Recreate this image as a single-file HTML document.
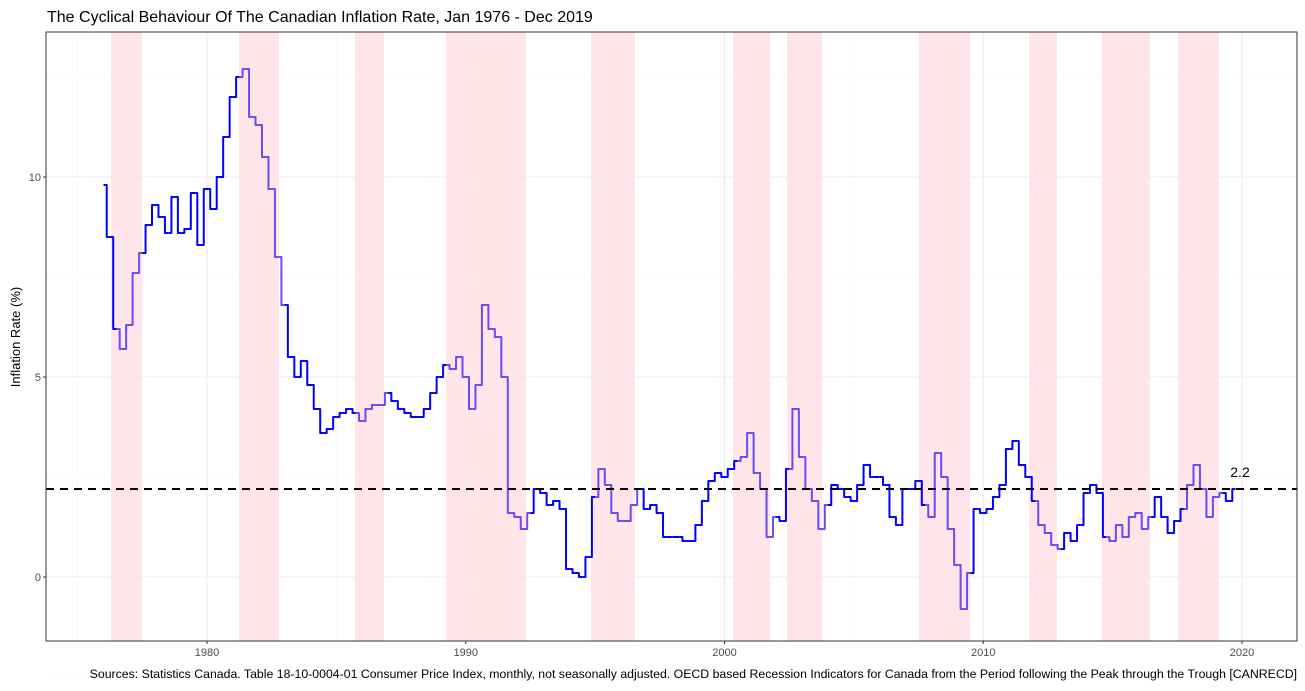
<!DOCTYPE html>
<html><head><meta charset="utf-8"><style>
body{margin:0;background:#fff;font-family:"Liberation Sans",sans-serif}
</style></head><body>
<svg width="1305" height="686" xmlns="http://www.w3.org/2000/svg">
<text x="47" y="22" font-size="16" fill="#000">The Cyclical Behaviour Of The Canadian Inflation Rate, Jan 1976 - Dec 2019</text>
<g id="bands"></g><g id="grid"></g><g id="series"></g><g id="axes"></g>
<rect x="46" y="32" width="1251" height="609" fill="none" stroke="#333" stroke-width="1"/>
<text transform="translate(20,337) rotate(-90)" text-anchor="middle" font-size="13" fill="#000">Inflation Rate (%)</text>
<text x="1297" y="678" text-anchor="end" font-size="12.3" fill="#000">Sources: Statistics Canada. Table 18-10-0004-01 Consumer Price Index, monthly, not seasonally adjusted. OECD based Recession Indicators for Canada from the Period following the Peak through the Trough [CANRECD]</text>
</svg>
<script>
const recStart=[1976.29,1981.24,1985.72,1989.24,1994.84,2000.33,2002.42,2007.52,2011.77,2014.59,2017.53];
const recEnd=[1977.49,1982.78,1986.84,1992.33,1996.54,2001.76,2003.77,2009.49,2012.85,2016.44,2019.11];
const startYear=1976, stepYears=0.25;
const inflation=[9.8,8.5,6.2,5.7,6.3,7.6,8.1,8.8,9.3,9.0,8.6,9.5,8.6,8.7,9.6,8.3,9.7,9.2,10.0,11.0,12.0,12.5,12.7,11.5,11.3,10.5,9.7,8.0,6.8,5.5,5.0,5.4,4.8,4.2,3.6,3.7,4.0,4.1,4.2,4.1,3.9,4.2,4.3,4.3,4.6,4.4,4.2,4.1,4.0,4.0,4.2,4.6,5.0,5.3,5.2,5.5,5.0,4.2,4.8,6.8,6.2,6.0,5.0,1.6,1.5,1.2,1.6,2.2,2.1,1.8,1.9,1.7,0.2,0.1,0.0,0.5,2.0,2.7,2.3,1.6,1.4,1.4,1.8,2.2,1.7,1.8,1.6,1.0,1.0,1.0,0.9,0.9,1.3,1.9,2.4,2.6,2.5,2.7,2.9,3.0,3.6,2.6,2.2,1.0,1.5,1.4,2.7,4.2,3.0,2.2,1.9,1.2,1.8,2.3,2.2,2.0,1.9,2.3,2.8,2.5,2.5,2.3,1.5,1.3,2.2,2.2,2.4,1.8,1.5,3.1,2.5,1.2,0.3,-0.8,0.1,1.7,1.6,1.7,2.0,2.3,3.2,3.4,2.8,2.5,1.9,1.3,1.1,0.8,0.7,1.1,0.9,1.3,2.1,2.3,2.1,1.0,0.9,1.3,1.0,1.5,1.6,1.2,1.5,2.0,1.5,1.1,1.4,1.7,2.3,2.8,2.2,1.5,2.0,2.1,1.9,2.2];
const avgRate=2.2;
const yTicks=[0,5,10];
const xTicks=[1980,1990,2000,2010,2020];
const NS="http://www.w3.org/2000/svg";
const L=46,R=1297,T=32,B=641;
const X=y=>207+(y-1980)*25.875;
const Y=v=>577-v*40;
function mk(tag,attrs,parent){const e=document.createElementNS(NS,tag);for(const k in attrs)e.setAttribute(k,attrs[k]);document.getElementById(parent).appendChild(e);return e;}
[-2.5,2.5,7.5,12.5].forEach(v=>{const e=mk('line',{x1:L,x2:R,y1:Y(v),y2:Y(v),stroke:'#f2f2f2','stroke-width':0.6},'grid');

});
[1975,1985,1995,2005,2015].forEach(v=>{const e=mk('line',{x1:X(v),x2:X(v),y1:T,y2:B,stroke:'#f2f2f2','stroke-width':0.6},'grid');

});
yTicks.forEach(v=>{const e=mk('line',{x1:L,x2:R,y1:Y(v),y2:Y(v),stroke:'#ebebeb','stroke-width':1.1},'grid');


const t=mk('text',{x:41,y:Y(v)+4,'text-anchor':'end','font-size':11,fill:'#4d4d4d'},'axes');t.textContent=v;


const tk=mk('line',{x1:43,x2:46,y1:Y(v),y2:Y(v),stroke:'#333'},'axes');

});
xTicks.forEach(v=>{const e=mk('line',{x1:X(v),x2:X(v),y1:T,y2:B,stroke:'#ebebeb','stroke-width':1.1},'grid');


const t=mk('text',{x:X(v),y:656,'text-anchor':'middle','font-size':11,fill:'#4d4d4d'},'axes');t.textContent=v;


const tk=mk('line',{x1:X(v),x2:X(v),y1:641,y2:644,stroke:'#333'},'axes');

});
recStart.forEach((s,i)=>{const e=mk('rect',{x:X(s),y:T,width:X(recEnd[i])-X(s),height:B-T,fill:'#ffe4e9'},'bands');

});
const inRec=y=>recStart.some((s,i)=>y>=s&&y<recEnd[i]);
for(let i=0;i<inflation.length-1;i++){
 const y0=startYear+i*stepYears,y1=Math.min(startYear+(i+1)*stepYears,2019.92);
 const c=inRec(y0)?'#6a4cf0':'#0000ff';
 const xm=(X(y0)+X(y1))/2;
 const dstr=`M${X(y0)},${Y(inflation[i])}H${xm}V${Y(inflation[i+1])}H${X(y1)}`;
 const e=mk('path',{d:dstr,fill:'none',stroke:c,'stroke-width':2,'stroke-linejoin':'round'},'series');
 
 
}
const d=mk('line',{x1:L,x2:R,y1:Y(avgRate),y2:Y(avgRate),stroke:'#000','stroke-width':2,'stroke-dasharray':'8,6'},'series');


const lb=mk('text',{x:1240,y:Y(avgRate)-12,'font-size':14,fill:'#000','text-anchor':'middle'},'series');lb.textContent=avgRate.toFixed(1);


</script>
</body></html>
